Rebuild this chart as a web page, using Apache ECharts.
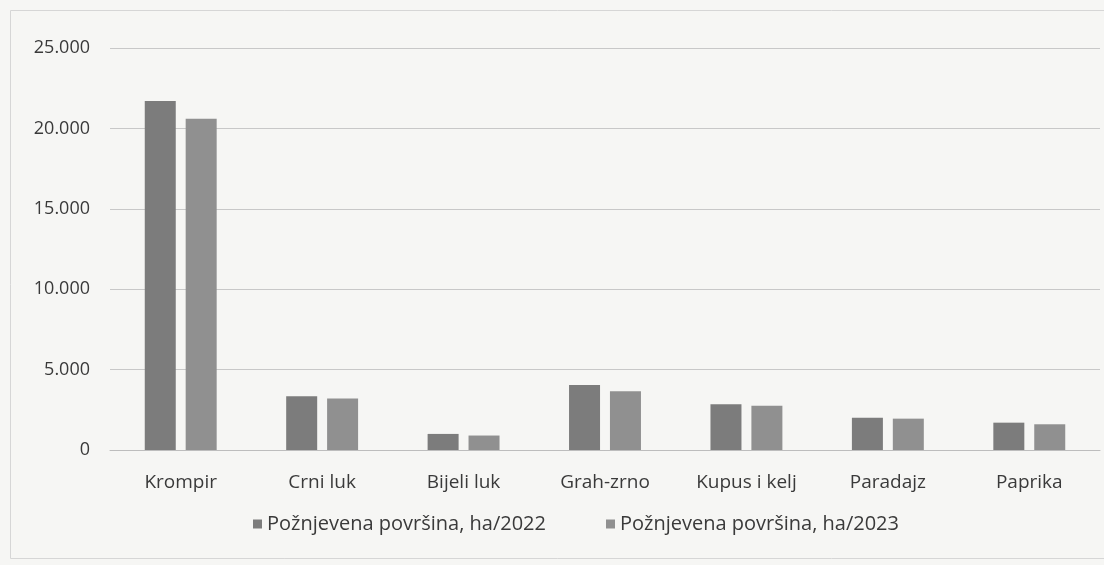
<!DOCTYPE html>
<html>
<head>
<meta charset="utf-8">
<script src="https://cdn.jsdelivr.net/npm/echarts@6/dist/echarts.min.js"></script>
<style>
html,body{margin:0;padding:0;background:#f6f6f4;}
#c{width:1104px;height:565px;}
</style>
</head>
<body>
<div id="c"></div>
<script>
var categories = ['Krompir', 'Crni luk', 'Bijeli luk', 'Grah-zrno', 'Kupus i kelj', 'Paradajz', 'Paprika'];
var seriesNames = ['Požnjevena površina, ha/2022', 'Požnjevena površina, ha/2023'];
var values2022 = [21700, 3350, 1000, 4050, 2850, 2000, 1700];
var values2023 = [20600, 3200, 900, 3650, 2750, 1950, 1600];

var chart = echarts.init(document.getElementById('c'));
chart.setOption({
  backgroundColor: '#f6f6f4',
  textStyle: { fontFamily: 'Open Sans' },
  graphic: [{
    type: 'rect', left: 8, top: 8,
    shape: { width: 1100, height: 548 },
    style: { fill: 'none', stroke: '#d6d6d6', lineWidth: 1 }
  }],
  grid: { left: 110, right: 4, top: 48, bottom: 115 },
  legend: {
    top: 509, left: 248, itemWidth: 9, itemHeight: 9, itemGap: 60,
    icon: 'rect',
    textStyle: { color: '#3a3a3a', fontSize: 20, fontFamily: 'Open Sans' },
    data: seriesNames
  },
  xAxis: {
    type: 'category', data: categories,
    axisLine: { lineStyle: { color: '#bdbdbd' } },
    axisTick: { show: false },
    axisLabel: { color: '#3a3a3a', fontSize: 19, margin: 23 }
  },
  yAxis: {
    type: 'value', min: 0, max: 25000, interval: 5000,
    axisLine: { show: false }, axisTick: { show: false },
    splitLine: { lineStyle: { color: '#c8c8c8' } },
    axisLabel: {
      color: '#3a3a3a', fontSize: 18, margin: 20,
      formatter: function (v) { return v === 0 ? '0' : String(v / 1000) + '.000'; }
    }
  },
  series: [
    { name: seriesNames[0], type: 'bar', data: values2022, barWidth: 31, barGap: '32%',
      itemStyle: { color: '#7c7c7c' } },
    { name: seriesNames[1], type: 'bar', data: values2023, barWidth: 31,
      itemStyle: { color: '#909090' } }
  ]
});
</script>
</body>
</html>
